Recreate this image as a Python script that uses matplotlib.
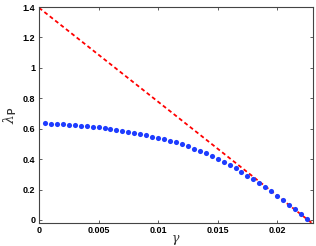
import matplotlib
matplotlib.use("Agg")
import matplotlib.pyplot as plt
import numpy as np

# Data
gamma_blue = [0.0005 * k for k in range(1, 46)]
lambda_blue = [0.636, 0.634, 0.631, 0.628, 0.626, 0.622, 0.619, 0.616, 0.612, 0.608,
               0.604, 0.599, 0.594, 0.588, 0.581, 0.574, 0.565, 0.556, 0.547, 0.538,
               0.529, 0.520, 0.510, 0.497, 0.483, 0.469, 0.454, 0.438, 0.421, 0.403,
               0.384, 0.363, 0.341, 0.317, 0.292, 0.267, 0.242, 0.215, 0.188, 0.160,
               0.131, 0.101, 0.070, 0.038, 0.005]
gamma_red = [0.0, 0.023]
lambda_red = [1.395, -0.026]

xticks = [0, 0.005, 0.01, 0.015, 0.02]
xticklabels = ["0", "0.005", "0.01", "0.015", "0.02"]
yticks = [0, 0.2, 0.4, 0.6, 0.8, 1.0, 1.2, 1.4]
yticklabels = ["0", "0.2", "0.4", "0.6", "0.8", "1", "1.2", "1.4"]

plt.rcParams['mathtext.fontset'] = 'custom'
plt.rcParams['mathtext.rm'] = 'DejaVu Serif'
plt.rcParams['mathtext.it'] = 'DejaVu Serif:italic'
plt.rcParams['mathtext.bf'] = 'Liberation Sans:bold'
fig = plt.figure(figsize=(3.16, 2.46), dpi=100)
ax = fig.add_axes([0.1234, 0.0935, 0.867, 0.878])

ax.plot(gamma_red, lambda_red, color='#ff0000', linestyle=(0, (2.2, 1.6)), linewidth=1.3, zorder=2)
ax.plot(gamma_blue, lambda_blue, linestyle='none', marker='o', markersize=3.7,
        color='#1e3cff', markeredgewidth=0, zorder=3)

ax.set_xlim(0, 0.023)
ax.set_ylim(-0.02, 1.4)
ax.set_xticks(xticks)
ax.set_xticklabels(xticklabels)
ax.set_yticks(yticks)
ax.set_yticklabels(yticklabels)
for lab in ax.get_xticklabels() + ax.get_yticklabels():
    lab.set_fontfamily('Liberation Sans')
    lab.set_fontweight('bold')
    lab.set_fontsize(6.5)
ax.tick_params(direction='in', length=2.5, width=0.6, top=True, right=True,
               color='#444444', pad=2.5)
for s in ax.spines.values():
    s.set_linewidth(0.8)
    s.set_color('#444444')

ax.set_xlabel(r'$\gamma$', fontsize=9, color='#333333')
ax.xaxis.set_label_coords(0.5, -0.045)
ax.set_ylabel(r'$\lambda_\mathbf{P}$', fontsize=10, color='#333333')
ax.yaxis.set_label_coords(-0.072, 0.5)

fig.savefig('out.png', dpi=100)
